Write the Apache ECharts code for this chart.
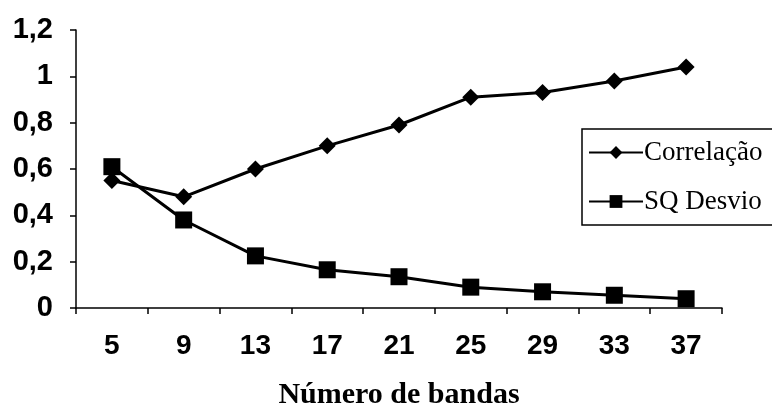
<!DOCTYPE html>
<html><head><meta charset="utf-8">
<script src="https://cdn.jsdelivr.net/npm/echarts@6/dist/echarts.min.js"></script>
<style>html,body{margin:0;padding:0;background:#fff}#c{width:772px;height:406px}</style>
</head><body><div id="c"></div>
<script>
var categories = ['5','9','13','17','21','25','29','33','37'];
var correlacao = [0.55, 0.48, 0.60, 0.70, 0.79, 0.91, 0.93, 0.98, 1.04];
var sqDesvio = [0.61, 0.38, 0.225, 0.165, 0.135, 0.09, 0.07, 0.055, 0.04];
var yTicks = [0, 0.2, 0.4, 0.6, 0.8, 1, 1.2];

var chart = echarts.init(document.getElementById('c'));
var sansFont = 'Liberation Sans, Arial, sans-serif';
var serifFont = 'Liberation Serif, Times New Roman, serif';
chart.setOption({
  animation: false,
  backgroundColor: '#fff',
  grid: {left: 76, right: 50, top: 30, bottom: 98, containLabel: false, outerBoundsMode: 'none'},
  legend: {
    left: 582, top: 129,
    orient: 'vertical',
    data: ['Correlação', 'SQ Desvio'],
    itemWidth: 54, itemHeight: 16, itemGap: 22,
    padding: [10, 20, 10, 6],
    borderColor: '#000', borderWidth: 1.5, borderRadius: 0,
    textStyle: {fontFamily: serifFont, fontSize: 27, color: '#000', padding: [0,0,0,-4]}
  },
  xAxis: {
    type: 'category',
    data: categories,
    boundaryGap: true,
    name: 'Número de bandas',
    nameLocation: 'middle',
    nameGap: 72,
    nameTextStyle: {fontFamily: serifFont, fontSize: 30, fontWeight: 'bold', color: '#000'},
    axisLine: {lineStyle: {color: '#000', width: 1.5}},
    axisTick: {show: true, alignWithLabel: false, length: 6, lineStyle: {color: '#000', width: 1.5}},
    axisLabel: {fontFamily: sansFont, fontSize: 28, fontWeight: 'bold', color: '#000', margin: 24}
  },
  yAxis: {
    type: 'value',
    min: 0, max: 1.2, interval: 0.2,
    splitLine: {show: false},
    axisLine: {show: true, lineStyle: {color: '#000', width: 1.5}},
    axisTick: {show: true, length: 6, lineStyle: {color: '#000', width: 1.5}},
    axisLabel: {
      fontFamily: sansFont, fontSize: 29, fontWeight: 'bold', color: '#000', margin: 23,
      padding: [0, 0, 6, 0],
      formatter: function (v) {
        var t = yTicks.filter(function (x) { return Math.abs(x - v) < 1e-9; });
        return String(t.length ? t[0] : v).replace('.', ',');
      }
    }
  },
  series: [
    {
      name: 'Correlação', type: 'line', data: correlacao,
      symbol: 'diamond', symbolSize: 17,
      lineStyle: {color: '#000', width: 3},
      itemStyle: {color: '#000'}
    },
    {
      name: 'SQ Desvio', type: 'line', data: sqDesvio,
      symbol: 'rect', symbolSize: 17,
      lineStyle: {color: '#000', width: 3},
      itemStyle: {color: '#000'}
    }
  ]
});
</script></body></html>
